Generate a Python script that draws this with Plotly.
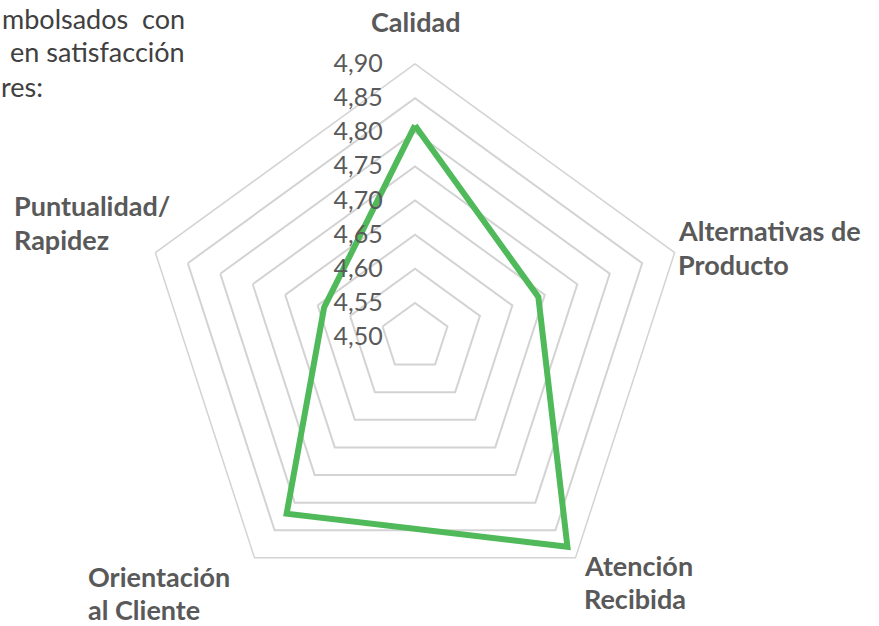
import plotly.graph_objects as go

categories = ["Calidad", "Alternativas de Producto", "Atención Recibida",
              "Orientación al Cliente", "Puntualidad/Rapidez"]
category_label_lines = [["Calidad"], ["Alternativas de", "Producto"], ["Atención", "Recibida"],
                        ["Orientación", "al Cliente"], ["Puntualidad/", "Rapidez"]]
values = [4.81, 4.69, 4.88, 4.82, 4.64]
tick_vals = [4.50, 4.55, 4.60, 4.65, 4.70, 4.75, 4.80, 4.85, 4.90]
tick_text = ["4,50", "4,55", "4,60", "4,65", "4,70", "4,75", "4,80", "4,85", "4,90"]
body_lines = ["mbolsados  con", "en satisfacción", "res:"]

W, H = 879, 626
FONT = "Lato"
LABEL_COLOR = "#595959"
GRID = "#d3d3d3"

fig = go.Figure()
fig.add_trace(go.Scatterpolar(
    r=values + values[:1],
    theta=categories + categories[:1],
    mode="lines",
    line=dict(color="#50B95A", width=6),
    hoverinfo="skip",
    showlegend=False,
))

cx, cy, R = 415, 337, 273
fig.update_layout(
    width=W, height=H,
    margin=dict(l=0, r=0, t=0, b=0),
    paper_bgcolor="white",
    font=dict(family=FONT, color=LABEL_COLOR),
    polar=dict(
        domain=dict(x=[(cx - R) / W, (cx + R) / W],
                    y=[1 - (cy + R) / H, 1 - (cy - R) / H]),
        bgcolor="white",
        gridshape="linear",
        radialaxis=dict(
            range=[4.50, 4.90],
            tickvals=tick_vals,
            ticktext=tick_text,
            angle=90,
            side="counterclockwise",
            showline=False,
            ticks="outside",
            ticklen=23,
            tickcolor="rgba(0,0,0,0)",
            gridcolor=GRID,
            gridwidth=1.5,
            tickfont=dict(family=FONT, size=25, color=LABEL_COLOR),
            tickangle=90,
        ),
        angularaxis=dict(
            type="category",
            categoryarray=categories,
            rotation=90,
            direction="clockwise",
            showgrid=False,
            showline=True,
            linecolor=GRID,
            linewidth=1.5,
            showticklabels=False,
            ticks="",
        ),
    ),
)

# category labels: (x, first line centre y, anchor)
label_pos = [
    (415, 21, "center"),
    (677, 231, "left"),
    (583, 565, "left"),
    (87, 576, "left"),
    (13, 206, "left"),
]
LINE_STEP = 33.5
for lines, (x, y0, xa) in zip(category_label_lines, label_pos):
    for i, line in enumerate(lines):
        y = y0 + i * LINE_STEP
        fig.add_annotation(
            text=f"<b>{line}</b>", x=x / W, y=1 - y / H, xref="paper", yref="paper",
            xanchor=xa, yanchor="middle", showarrow=False, borderpad=0,
            font=dict(family=FONT, size=27, color=LABEL_COLOR),
        )

# clipped body text at the top-left
body_pos = [(186, 18, "right"), (186, 52, "right"), (0, 86, "left")]
for txt, (x, y, xa) in zip(body_lines, body_pos):
    fig.add_annotation(
        text=txt, x=x / W, y=1 - y / H, xref="paper", yref="paper",
        xanchor=xa, yanchor="middle", showarrow=False, borderpad=0,
        font=dict(family=FONT, size=27, color="#404040"),
    )

fig.write_html("out.html", config={"displayModeBar": False},
               post_script="document.body.style.margin='0';")
